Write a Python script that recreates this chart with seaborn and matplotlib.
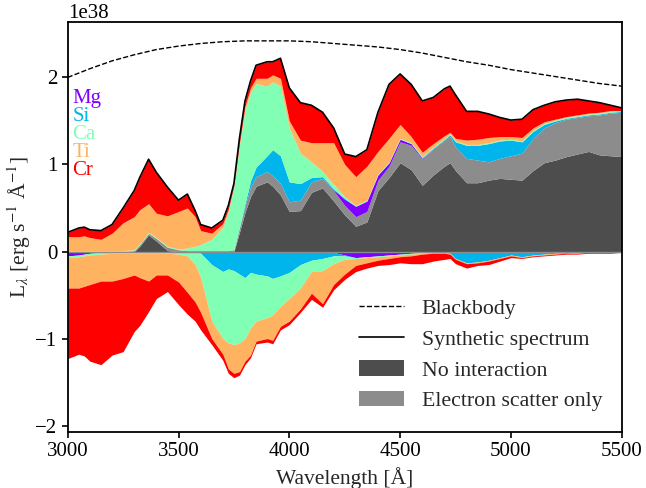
import numpy as np
import matplotlib
matplotlib.use("Agg")
import matplotlib.pyplot as plt
from matplotlib.lines import Line2D
from matplotlib.patches import Patch
import seaborn as sns

# Luminosity values below are in units of 1e38 erg/s/Angstrom
LUM_UNIT = 1e38

wavelength = [3000, 3050, 3075, 3100, 3150, 3200, 3250, 3300, 3325, 3365,
              3400, 3450, 3500, 3540, 3575, 3600, 3650, 3700, 3725, 3750,
              3775, 3800, 3825, 3850, 3900, 3925, 3960, 4000, 4050, 4100,
              4150, 4200, 4250, 4300, 4350, 4400, 4450, 4500, 4550, 4600,
              4650, 4700, 4725, 4750, 4800, 4850, 4900, 4950, 5000, 5050,
              5100, 5150, 5200, 5250, 5300, 5350, 5400, 5450, 5500]

# Emission contributions (stacked upwards)
no_interaction = [0, 0, 0, 0, 0, 0, 0, 0, 0.06, 0.19,
                  0.12, 0.01, 0, 0, 0, 0, 0, 0, 0, 0,
                  0.22, 0.45, 0.63, 0.75, 0.80, 0.75, 0.65, 0.46, 0.47, 0.68,
                  0.73, 0.58, 0.42, 0.29, 0.34, 0.70, 0.85, 1.02, 0.94, 0.76,
                  0.88, 0.98, 1.02, 0.93, 0.79, 0.79, 0.82, 0.84, 0.83, 0.82,
                  0.93, 1.02, 1.05, 1.09, 1.12, 1.15, 1.11, 1.10, 1.09]
electron_scatter = [0, 0, 0, 0, 0, 0, 0, 0.01, 0.02, 0.02,
                    0.03, 0.04, 0.02, 0.01, 0.01, 0.01, 0.01, 0.01, 0.01, 0.02,
                    0.05, 0.07, 0.11, 0.11, 0.12, 0.12, 0.13, 0.11, 0.12, 0.12,
                    0.11, 0.12, 0.11, 0.11, 0.12, 0.12, 0.13, 0.24, 0.28, 0.30,
                    0.30, 0.30, 0.30, 0.27, 0.28, 0.26, 0.21, 0.23, 0.27, 0.31,
                    0.37, 0.40, 0.43, 0.43, 0.42, 0.41, 0.46, 0.49, 0.51]
mg_emission = [0, 0, 0, 0, 0, 0, 0, 0, 0, 0,
               0, 0, 0, 0, 0, 0, 0, 0, 0, 0,
               0, 0, 0, 0, 0, 0, 0, 0, 0, 0,
               0, 0.01, 0.07, 0.12, 0.12, 0.06, 0.04, 0.03, 0.02, 0.01,
               0, 0, 0, 0, 0, 0, 0, 0, 0, 0,
               0, 0, 0, 0, 0, 0, 0, 0, 0]
si_emission = [0, 0, 0, 0, 0, 0, 0, 0, 0, 0,
               0, 0, 0, 0, 0, 0, 0, 0, 0, 0,
               0.01, 0.03, 0.07, 0.11, 0.18, 0.30, 0.32, 0.23, 0.19, 0.05,
               0.02, 0.01, 0.01, 0, 0, 0, 0, 0, 0, 0.01,
               0.01, 0.01, 0.02, 0.06, 0.15, 0.17, 0.21, 0.20, 0.18, 0.13,
               0.08, 0.04, 0.02, 0.01, 0.01, 0.01, 0.01, 0.01, 0.01]
ca_emission = [0.01, 0.01, 0.01, 0.01, 0.01, 0.01, 0.01, 0.01, 0.01, 0.01,
               0.01, 0.01, 0.01, 0.03, 0.05, 0.07, 0.13, 0.27, 0.45, 0.72,
               0.94, 1.07, 1.02, 0.96, 0.80, 0.78, 0.80, 0.62, 0.35, 0.18,
               0.06, 0.05, 0.02, 0.01, 0.01, 0.01, 0.01, 0.01, 0.01, 0.01,
               0.01, 0.01, 0.01, 0.01, 0.01, 0.01, 0.01, 0.01, 0.01, 0.01,
               0.01, 0.01, 0.01, 0.01, 0.01, 0.01, 0.01, 0.01, 0]
ti_emission = [0.16, 0.16, 0.17, 0.15, 0.13, 0.20, 0.32, 0.38, 0.39, 0.33,
               0.28, 0.35, 0.43, 0.46, 0.34, 0.16, 0.07, 0.04, 0.03, 0.02,
               0.03, 0.05, 0.05, 0.06, 0.09, 0.08, 0.09, 0.08, 0.15, 0.22,
               0.33, 0.48, 0.37, 0.33, 0.39, 0.26, 0.27, 0.16, 0.07, 0.05,
               0.04, 0.03, 0.02, 0.03, 0.05, 0.06, 0.06, 0.04, 0.03, 0.04,
               0.03, 0.02, 0.01, 0.01, 0.01, 0.01, 0.01, 0.01, 0.01]
cr_emission = [0.05, 0.10, 0.10, 0.09, 0.10, 0.10, 0.17, 0.30, 0.37, 0.51,
               0.47, 0.33, 0.13, 0.16, 0.07, 0.07, 0.06, 0.04, 0.04, 0.02,
               0.05, 0.06, 0.08, 0.15, 0.19, 0.15, 0.23, 0.38, 0.43, 0.43,
               0.35, 0.17, 0.12, 0.23, 0.19, 0.45, 0.62, 0.58, 0.60, 0.59,
               0.53, 0.54, 0.53, 0.50, 0.33, 0.32, 0.27, 0.22, 0.19, 0.21,
               0.21, 0.19, 0.20, 0.19, 0.18, 0.14, 0.11, 0.06, 0.03]

# Absorption contributions (stacked downwards)
mg_absorption = [-0.05, -0.04, -0.03, -0.02, -0.01, -0.01, 0, 0, 0, 0,
                 0, 0, 0, 0, 0, 0, 0, 0, 0, 0,
                 0, 0, 0, 0, 0, 0, 0, 0, 0, 0,
                 0, -0.01, -0.04, -0.07, -0.06, -0.05, -0.04, -0.03, -0.02, -0.01,
                 -0.01, 0, 0, 0, 0, 0, 0, 0, 0, 0,
                 0, 0, 0, 0, 0, 0, 0, 0, 0]
si_absorption = [0, 0, 0, 0, 0, 0, 0, 0, 0, 0,
                 0, 0, 0, 0, 0, -0.02, -0.15, -0.23, -0.20, -0.22,
                 -0.26, -0.30, -0.24, -0.26, -0.28, -0.31, -0.28, -0.24, -0.15, -0.10,
                 -0.08, -0.04, -0.01, 0, 0, 0, 0, 0, 0, 0,
                 0, -0.01, -0.02, -0.08, -0.13, -0.12, -0.10, -0.07, -0.04, -0.06,
                 -0.04, -0.03, -0.02, -0.02, -0.01, -0.01, -0.01, 0, 0]
ca_absorption = [-0.02, -0.02, -0.02, -0.02, -0.02, -0.01, -0.02, -0.02, -0.02, -0.02,
                 -0.02, -0.02, -0.03, -0.05, -0.15, -0.28, -0.65, -0.77, -0.85, -0.85,
                 -0.79, -0.70, -0.64, -0.54, -0.48, -0.42, -0.35, -0.30, -0.27, -0.13,
                 -0.14, -0.09, -0.04, -0.01, -0.01, -0.01, -0.01, -0.01, -0.01, -0.01,
                 0, 0, 0, 0, 0, 0, 0, 0, 0, 0,
                 0, 0, 0, 0, 0, 0, 0, 0, 0]
ti_absorption = [-0.35, -0.36, -0.35, -0.34, -0.31, -0.32, -0.29, -0.25, -0.28, -0.32,
                 -0.25, -0.25, -0.32, -0.42, -0.43, -0.40, -0.20, -0.18, -0.30, -0.33,
                 -0.33, -0.26, -0.31, -0.23, -0.24, -0.29, -0.23, -0.26, -0.24, -0.25,
                 -0.38, -0.24, -0.17, -0.08, -0.06, -0.04, -0.03, -0.02, -0.02, -0.01,
                 -0.01, -0.01, -0.01, -0.01, -0.01, -0.01, -0.01, -0.01, -0.01, -0.01,
                 -0.01, -0.01, -0.01, 0, -0.01, 0, 0, -0.01, -0.01]
cr_absorption = [-0.81, -0.76, -0.80, -0.88, -0.96, -0.85, -0.84, -0.65, -0.55, -0.35,
                 -0.27, -0.19, -0.26, -0.25, -0.22, -0.20, -0.07, -0.07, -0.05, -0.05,
                 -0.04, -0.04, -0.03, -0.03, -0.04, -0.04, -0.04, -0.04, -0.04, -0.07,
                 -0.04, -0.06, -0.06, -0.07, -0.06, -0.06, -0.07, -0.07, -0.09, -0.11,
                 -0.09, -0.07, -0.05, -0.05, -0.05, -0.03, -0.04, -0.03, -0.02, -0.01,
                 -0.01, -0.01, -0.01, -0.01, -0.01, -0.01, -0.01, -0.01, 0]

# Emergent synthetic spectrum
synthetic = [0.22, 0.27, 0.28, 0.25, 0.24, 0.31, 0.50, 0.70, 0.85, 1.06,
             0.91, 0.74, 0.59, 0.66, 0.47, 0.31, 0.27, 0.36, 0.53, 0.78,
             1.30, 1.73, 1.96, 2.14, 2.18, 2.18, 2.22, 1.88, 1.71, 1.68,
             1.60, 1.42, 1.12, 1.09, 1.17, 1.60, 1.92, 2.04, 1.92, 1.73,
             1.77, 1.87, 1.90, 1.80, 1.61, 1.61, 1.58, 1.54, 1.51, 1.52,
             1.63, 1.68, 1.72, 1.74, 1.75, 1.73, 1.71, 1.68, 1.65]

# Photospheric blackbody
bb_wavelength = [3000, 3100, 3200, 3300, 3400, 3500, 3600, 3700, 3800, 3900,
                 4000, 4100, 4200, 4300, 4400, 4500, 4600, 4700, 4800, 4900,
                 5000, 5100, 5200, 5300, 5400, 5500]
blackbody = [2.00, 2.10, 2.19, 2.26, 2.32, 2.36, 2.39, 2.41, 2.42, 2.42,
             2.42, 2.41, 2.39, 2.37, 2.35, 2.32, 2.28, 2.23, 2.18, 2.14,
             2.09, 2.05, 2.01, 1.97, 1.93, 1.90]

elements = ["Mg", "Si", "Ca", "Ti", "Cr"]

sns.set_theme(style="ticks")
plt.rcParams["font.family"] = ["Liberation Serif", "DejaVu Serif"]
plt.rcParams["mathtext.fontset"] = "stix"
plt.rcParams["axes.linewidth"] = 1.3
plt.rcParams["xtick.labelsize"] = 15
plt.rcParams["ytick.labelsize"] = 15

element_colors = plt.cm.rainbow(np.linspace(0, 1, len(elements)))
dark_grey = "#4d4d4d"
light_grey = "#8c8c8c"

fig = plt.figure(figsize=(6.46, 4.88), dpi=100)
ax = fig.add_axes([0.1048, 0.1154, 0.8576, 0.8401])

wave = np.array(wavelength, dtype=float)

# Stack the emission side
emission_layers = [(no_interaction, dark_grey), (electron_scatter, light_grey)]
emission_layers += [(vals, col) for vals, col in zip(
    [mg_emission, si_emission, ca_emission, ti_emission, cr_emission], element_colors)]
lower = np.zeros_like(wave)
for vals, col in emission_layers:
    upper = lower + np.array(vals)
    ax.fill_between(wave, lower * LUM_UNIT, upper * LUM_UNIT, color=col, lw=0)
    lower = upper

# Stack the absorption side
lower = np.zeros_like(wave)
for vals, col in zip([mg_absorption, si_absorption, ca_absorption, ti_absorption,
                      cr_absorption], element_colors):
    upper = lower + np.array(vals)
    ax.fill_between(wave, lower * LUM_UNIT, upper * LUM_UNIT, color=col, lw=0)
    lower = upper

ax.axhline(0, color=light_grey, lw=1.0)

sns.lineplot(x=bb_wavelength, y=np.array(blackbody) * LUM_UNIT, color="black",
             linestyle="--", lw=1.0, ax=ax, sort=False)
sns.lineplot(x=wavelength, y=np.array(synthetic) * LUM_UNIT, color="black",
             lw=1.2, ax=ax, sort=False)

ax.set_xlim(3000, 5500)
ax.set_ylim(-2.07 * LUM_UNIT, 2.64 * LUM_UNIT)
ax.set_xticks([3000, 3500, 4000, 4500, 5000, 5500])
ax.set_yticks(np.array([-2, -1, 0, 1, 2]) * LUM_UNIT)
ax.yaxis.get_offset_text().set_fontsize(15)
ax.tick_params(direction="out", length=4, width=1.2, colors="black")
for side in ["top", "right", "left", "bottom"]:
    ax.spines[side].set_visible(True)
    ax.spines[side].set_color("black")

ax.set_xlabel("Wavelength [Å]", fontsize=15.5)
ax.set_ylabel(r"L$_{\lambda}$ [erg s$^{-1}$ Å$^{-1}$]", fontsize=15.5, labelpad=1.5)

# Element colour key
key_y = [0.801, 0.757, 0.713, 0.669, 0.625]
for name, col, yy in zip(elements, element_colors, key_y):
    ax.text(0.008, yy, name, color=col, fontsize=15, transform=ax.transAxes,
            va="baseline", ha="left")

handles = [
    Line2D([], [], color="black", linestyle="--", lw=1.0),
    Line2D([], [], color="black", lw=1.2),
    Patch(facecolor=dark_grey, edgecolor="none"),
    Patch(facecolor=light_grey, edgecolor="none"),
]
labels = ["Blackbody", "Synthetic spectrum", "No interaction", "Electron scatter only"]
ax.legend(handles, labels, loc="lower right", frameon=False, fontsize=15.7,
          handlelength=2.06, handleheight=0.73, handletextpad=0.81,
          labelspacing=0.47, bbox_to_anchor=(1.0, 0.002))

fig.savefig("out.png", dpi=100)
